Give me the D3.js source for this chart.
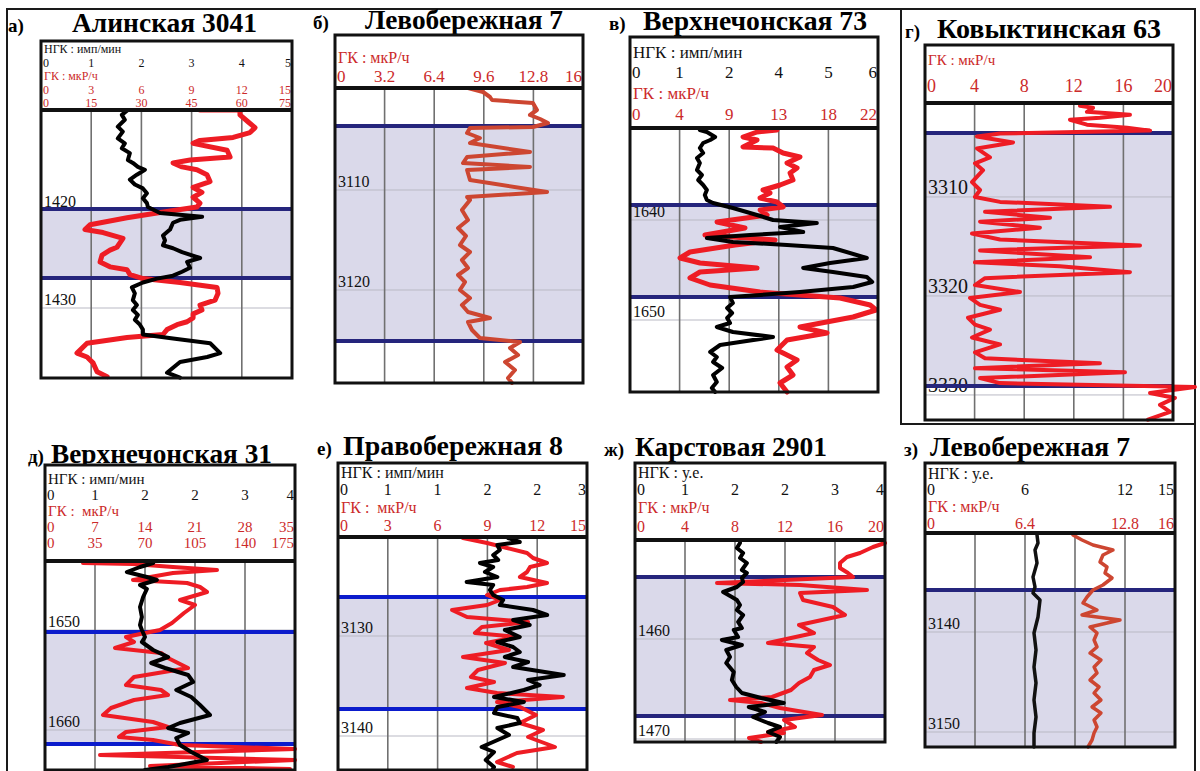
<!DOCTYPE html>
<html><head><meta charset="utf-8">
<script src="https://cdn.jsdelivr.net/npm/d3@7"></script>
<style>
body{margin:0;background:#fff}
svg{display:block}
</style>
</head><body>
<svg id="fig" width="1200" height="771"></svg>
<script>
// ---- well log data: [depth (m), value] ----
// а) Алинская 3041
const alinskNgk = [[1409.8,1.73],[1410.3,1.61],[1410.8,1.67],[1411.5,1.53],[1412.0,1.63],[1412.7,1.53],[1413.2,1.67],[1413.7,1.61],[1414.2,1.77],[1414.9,1.73],[1415.2,1.83],[1415.6,1.93],[1415.9,2.07],[1416.4,1.91],[1416.9,1.77],[1417.4,1.87],[1417.8,2.03],[1418.3,2.11],[1418.8,2.03],[1419.3,2.11],[1419.7,2.13],[1420.3,2.37],[1420.7,3.21],[1421.0,2.77],[1421.3,2.63],[1422.0,2.57],[1422.6,2.43],[1423.1,2.47],[1423.6,2.43],[1423.9,2.63],[1424.3,2.81],[1424.9,3.17],[1425.3,2.91],[1425.9,2.97],[1426.3,2.81],[1426.7,2.63],[1427.0,2.31],[1427.4,2.03],[1427.9,1.81],[1428.5,1.87],[1429.2,1.83],[1429.7,1.91],[1430.2,1.83],[1430.7,1.93],[1431.2,1.87],[1431.7,1.97],[1432.2,2.03],[1432.7,2.03],[1433.1,2.63],[1433.6,3.37],[1434.6,3.57],[1435.0,3.31],[1435.5,2.77],[1436.1,2.63],[1436.6,2.51],[1437.1,2.77]];
const alinskGk = [[1409.8,9.5],[1409.8,11.89],[1410.3,11.89],[1411.0,12.37],[1411.6,12.79],[1412.1,12.49],[1412.6,11.48],[1412.9,9.5],[1413.2,9.09],[1413.9,11.12],[1414.6,11.3],[1414.9,8.91],[1415.2,7.89],[1415.6,8.43],[1415.9,9.32],[1416.4,9.92],[1417.1,10.1],[1417.7,9.09],[1418.2,9.62],[1418.7,9.09],[1419.3,9.5],[1419.7,9.32],[1420.3,6.93],[1420.8,5.14],[1421.5,2.93],[1422.0,2.63],[1422.3,3.71],[1422.9,4.9],[1423.8,4.54],[1424.1,4.12],[1424.6,3.65],[1425.3,3.53],[1425.8,4.12],[1426.1,5.14],[1426.6,5.32],[1427.0,6.1],[1427.4,8.31],[1427.9,10.52],[1428.5,10.58],[1429.2,10.4],[1429.7,9.5],[1430.2,9.62],[1430.6,9.09],[1431.0,9.09],[1431.4,8.73],[1431.7,8.13],[1432.2,7.53],[1432.7,7.29],[1433.0,5.14],[1433.6,2.75],[1434.6,2.15],[1435.0,2.75],[1435.6,3.11],[1436.5,3.35],[1437.0,3.95]];

// б) Левобережная 7 (ГК)
const levo7Gk = [[3099.8,8.58],[3100.2,9.55],[3100.7,10.0],[3101.0,10.13],[3101.3,12.77],[3102.0,13.03],[3102.5,12.58],[3102.9,13.23],[3103.3,13.74],[3103.7,12.77],[3103.8,8.71],[3104.3,8.52],[3104.8,9.35],[3105.3,8.71],[3106.2,12.58],[3106.7,8.52],[3107.3,8.26],[3107.7,12.58],[3108.0,8.52],[3109.0,8.71],[3110.2,13.68],[3110.7,8.52],[3111.0,8.71],[3112.0,8.19],[3113.0,8.58],[3113.8,7.94],[3114.6,8.45],[3115.5,8.06],[3116.2,8.71],[3117.0,8.19],[3117.8,8.58],[3118.5,7.94],[3119.2,8.39],[3120.0,8.06],[3120.8,8.71],[3121.5,8.19],[3122.2,8.58],[3122.8,10.0],[3123.2,8.58],[3124.0,8.84],[3124.8,9.35],[3125.2,11.94],[3125.8,11.29],[3126.5,11.81],[3127.2,10.97],[3128.0,11.61],[3128.8,11.16],[3129.3,11.42]];

// в) Верхнечонская 73
const vch73Ngk = [[1631.0,1.69],[1631.2,1.86],[1631.7,2.06],[1632.0,1.94],[1632.3,1.77],[1632.8,1.69],[1633.3,1.77],[1633.8,1.62],[1634.3,1.69],[1635.0,1.62],[1635.5,1.74],[1636.0,1.65],[1636.5,1.77],[1637.0,1.86],[1637.5,1.81],[1638.0,1.86],[1638.3,2.01],[1638.8,2.49],[1639.5,3.07],[1640.0,3.46],[1640.3,4.52],[1640.7,3.63],[1641.2,4.19],[1641.5,2.9],[1641.8,1.86],[1642.2,2.49],[1642.5,3.8],[1642.8,4.91],[1643.8,5.73],[1644.3,4.84],[1644.8,4.19],[1645.2,4.91],[1645.7,5.73],[1646.2,5.86],[1646.7,5.4],[1647.2,4.11],[1647.5,3.15],[1647.7,2.42],[1648.3,2.49],[1648.8,2.35],[1649.3,2.47],[1649.8,2.35],[1650.3,2.42],[1650.7,2.1],[1651.2,2.49],[1651.7,3.46],[1652.2,2.66],[1652.5,2.18],[1653.2,1.94],[1653.7,2.1],[1654.2,2.01],[1654.8,2.23],[1655.5,2.01],[1656.2,2.1],[1656.8,1.98],[1657.2,2.06]];
const vch73Gk = [[1631.0,13.04],[1631.2,11.27],[1631.7,10.03],[1632.0,11.27],[1632.7,10.03],[1632.8,12.69],[1633.3,13.58],[1633.7,15.08],[1634.3,13.93],[1634.8,14.82],[1635.3,14.2],[1636.0,14.46],[1636.5,13.31],[1636.8,12.42],[1637.0,11.8],[1637.3,12.42],[1637.8,11.54],[1638.2,13.04],[1638.7,13.58],[1639.0,11.54],[1639.5,12.16],[1640.2,7.72],[1640.8,10.2],[1641.5,6.65],[1642.0,12.87],[1642.5,9.32],[1643.2,5.32],[1643.8,4.44],[1644.3,6.21],[1644.8,11.27],[1645.2,6.21],[1645.8,5.32],[1646.5,7.1],[1647.2,11.54],[1647.8,18.63],[1648.5,21.3],[1649.0,21.83],[1649.7,19.79],[1650.7,15.08],[1651.3,17.48],[1652.0,13.93],[1653.0,13.04],[1654.0,14.82],[1654.7,13.93],[1655.5,14.46],[1656.3,13.31],[1657.2,13.93]];

// г) Ковыктинская 63 (ГК)
const kov63Gk = [[3300.8,12.5],[3301.0,13.55],[3301.4,13.06],[3301.7,16.53],[3302.0,14.11],[3302.2,11.69],[3302.7,13.06],[3303.0,16.29],[3303.3,18.15],[3303.6,6.05],[3303.9,4.19],[3304.5,7.1],[3305.1,4.19],[3306.0,5.24],[3306.6,4.03],[3307.3,4.68],[3308.5,3.79],[3309.3,4.44],[3310.0,4.03],[3310.5,6.05],[3311.0,14.92],[3311.5,4.84],[3312.1,10.08],[3312.5,4.44],[3313.1,9.27],[3313.7,3.79],[3314.3,6.05],[3314.9,17.34],[3315.4,4.44],[3316.1,13.31],[3316.6,4.03],[3317.0,10.89],[3317.6,16.53],[3318.2,4.84],[3318.9,4.03],[3319.6,7.66],[3320.2,3.63],[3320.9,4.44],[3321.4,6.05],[3322.2,3.47],[3322.9,4.03],[3323.4,5.24],[3324.2,3.79],[3324.9,6.05],[3325.7,4.03],[3326.3,4.84],[3326.8,14.11],[3327.3,4.03],[3327.7,16.13],[3328.3,4.44],[3328.8,6.05],[3329.2,21.77],[3329.8,18.15],[3330.3,20.16],[3331.0,18.95],[3331.7,19.76],[3332.5,17.98]];

// д) Верхнечонская 31
const vch31Ngk = [[1643.3,1.73],[1643.7,1.52],[1644.2,1.31],[1644.7,1.63],[1645.0,1.79],[1645.5,1.52],[1645.9,1.63],[1646.7,1.57],[1647.7,1.52],[1648.7,1.55],[1649.5,1.52],[1650.0,1.55],[1650.7,1.6],[1651.2,1.55],[1652.0,1.73],[1652.7,1.97],[1653.3,1.7],[1653.8,1.92],[1654.5,2.29],[1655.2,2.37],[1656.0,2.1],[1656.7,2.34],[1657.5,2.48],[1658.5,2.64],[1659.3,2.16],[1659.8,1.97],[1660.3,2.29],[1660.8,2.1],[1661.5,2.16],[1662.2,2.34],[1663.0,2.59],[1663.7,1.97],[1664.0,1.6]];
const vch31Gk = [[1643.3,5.32],[1643.4,12.32],[1643.7,17.92],[1644.0,24.08],[1644.3,17.92],[1645.0,12.32],[1645.3,19.88],[1645.7,21.7],[1646.2,22.68],[1646.5,21.28],[1647.0,18.9],[1647.5,21.0],[1648.3,19.46],[1649.3,17.78],[1650.0,16.1],[1650.3,14.0],[1650.7,11.34],[1651.2,12.46],[1651.8,9.8],[1652.3,16.24],[1652.8,17.22],[1653.8,20.02],[1654.7,12.46],[1655.5,11.34],[1656.0,16.24],[1656.5,17.22],[1657.0,12.46],[1657.8,9.24],[1658.5,8.12],[1659.2,15.12],[1659.7,17.22],[1660.2,11.34],[1660.7,10.36],[1661.0,15.12],[1661.5,18.9],[1661.9,35.0],[1662.5,7.7],[1663.0,35.0],[1663.6,14.7],[1663.9,34.3]];

// е) Правобережная 8
const pravo8Ngk = [[3120.2,2.05],[3120.6,2.19],[3120.9,1.92],[3121.4,1.95],[3121.9,1.87],[3122.4,1.93],[3122.7,1.71],[3123.1,1.87],[3123.6,1.77],[3124.1,1.92],[3124.6,1.55],[3124.9,1.87],[3125.4,1.83],[3125.9,1.87],[3126.4,1.99],[3126.9,1.95],[3127.4,2.35],[3127.9,2.52],[3128.4,2.11],[3128.9,2.31],[3129.4,2.01],[3130.1,2.19],[3130.6,1.92],[3131.1,2.11],[3131.6,2.19],[3132.1,2.01],[3132.6,2.29],[3133.1,2.11],[3133.9,2.72],[3134.4,2.29],[3134.9,2.43],[3135.4,2.24],[3136.1,1.88],[3136.6,2.24],[3137.1,1.92],[3137.7,1.88],[3138.2,2.16],[3138.7,2.19],[3139.2,1.92],[3139.9,2.06],[3141.1,1.73],[3141.6,1.88],[3142.4,1.78],[3143.1,1.88],[3143.4,1.86]];
const pravo8Gk = [[3120.2,7.53],[3120.7,8.98],[3121.2,10.18],[3121.7,11.39],[3122.2,11.75],[3122.7,12.59],[3123.1,11.57],[3123.6,11.39],[3124.1,10.96],[3124.7,12.59],[3125.1,11.39],[3125.4,9.76],[3125.9,8.98],[3126.4,9.76],[3126.9,8.98],[3127.4,6.87],[3128.1,7.77],[3128.6,11.45],[3129.1,8.67],[3129.7,8.25],[3130.1,10.78],[3130.7,8.92],[3131.4,10.3],[3132.1,7.53],[3132.7,10.06],[3133.4,8.43],[3134.1,8.01],[3134.6,9.4],[3135.2,7.77],[3135.7,9.58],[3136.1,13.55],[3136.6,9.58],[3137.1,10.96],[3137.9,11.93],[3138.7,10.96],[3139.4,12.35],[3140.1,11.45],[3141.1,13.07],[3141.7,10.78],[3142.6,9.58],[3143.1,10.54]];

// ж) Карстовая 2901
const karst2901Ngk = [[1450.4,1.68],[1450.9,1.63],[1451.4,1.73],[1451.9,1.68],[1452.4,1.79],[1453.1,1.71],[1453.4,1.79],[1453.9,1.71],[1454.3,1.73],[1454.8,1.63],[1455.3,1.41],[1455.8,1.55],[1456.1,1.63],[1456.6,1.68],[1457.1,1.63],[1457.6,1.73],[1458.3,1.65],[1458.9,1.71],[1459.1,1.58],[1459.8,1.65],[1460.1,1.39],[1460.6,1.71],[1461.1,1.46],[1461.8,1.52],[1462.4,1.46],[1463.3,1.58],[1464.1,1.55],[1464.8,1.62],[1465.4,1.71],[1465.9,2.02],[1466.4,2.38],[1466.8,1.82],[1467.3,2.08],[1467.8,1.89],[1468.4,2.13],[1468.8,2.32],[1469.3,2.13],[1469.8,2.32],[1470.3,2.26]];
const karst2901Gk = [[1450.4,20.0],[1450.8,19.04],[1451.4,18.0],[1451.8,16.96],[1452.4,16.4],[1452.9,16.4],[1453.4,17.04],[1453.8,17.44],[1454.4,6.56],[1454.6,13.2],[1455.1,18.56],[1455.4,13.2],[1456.1,13.44],[1456.8,15.84],[1457.6,16.8],[1458.6,13.12],[1459.4,14.32],[1460.4,10.64],[1460.8,14.32],[1461.4,13.76],[1462.1,14.64],[1462.6,15.6],[1463.1,14.32],[1463.8,14.0],[1464.4,13.12],[1465.1,12.48],[1465.8,10.96],[1466.1,7.6],[1466.4,10.08],[1466.9,11.6],[1467.6,14.96],[1468.1,11.92],[1468.8,12.8],[1469.3,10.64],[1469.4,11.92],[1469.9,9.12],[1470.3,10.08]];

// з) Левобережная 7
const levo7bNgk = [[3130.3,6.72],[3131.1,6.78],[3131.8,6.6],[3133.1,6.72],[3134.5,6.48],[3135.5,6.6],[3136.1,6.48],[3136.8,6.9],[3138.5,6.78],[3140.1,6.54],[3141.8,6.66],[3143.5,6.54],[3145.1,6.66],[3146.8,6.54],[3148.5,6.66],[3150.1,6.54],[3151.5,6.54]];
const levo7bGk = [[3130.3,9.47],[3130.8,10.05],[3131.3,10.75],[3131.8,12.03],[3132.3,11.39],[3133.0,11.2],[3133.5,11.65],[3134.1,11.52],[3134.6,11.97],[3135.3,11.39],[3135.8,10.75],[3136.5,10.37],[3137.1,10.11],[3137.8,11.01],[3138.3,10.05],[3138.8,12.48],[3139.5,10.56],[3140.1,11.01],[3140.8,10.82],[3141.5,11.01],[3142.1,10.56],[3142.8,11.26],[3143.5,10.82],[3144.1,11.01],[3144.8,10.56],[3145.5,11.14],[3146.1,10.82],[3146.8,11.26],[3147.5,10.69],[3148.1,11.26],[3148.8,10.82],[3149.5,11.01],[3150.1,10.82],[3150.8,10.69],[3151.5,10.43]];

// ---- scale tick values and labels ----
const ticks5 = [0,1,2,3,4,5];
const ticks15 = [0,3,6,9,12,15];
const ticks75 = [0,15,30,45,60,75];
const ticks16 = [0,3.2,6.4,9.6,12.8,16];
const vch73NgkTicks = [0,1.2,2.4,3.6,4.8,6], vch73NgkLabels = ["0","1","2","4","5","6"];
const vch73GkTicks = [0,4.4,8.8,13.2,17.6,22], vch73GkLabels = ["0","4","9","13","18","22"];
const ticks20 = [0,4,8,12,16,20];
const ngk4Ticks = [0,0.8,1.6,2.4,3.2,4], ngk4Labels = ["0","1","2","2","3","4"];
const ticks35 = [0,7,14,21,28,35];
const ticks175 = [0,35,70,105,140,175];
const ngk3Ticks = [0,0.6,1.2,1.8,2.4,3], ngk3Labels = ["0","1","1","2","2","3"];
const levo7bNgkTicks = [0,6,12,15];
const levo7bGkTicks = [0,6.4,12.8,16];

// depth marks
const alinskDepths = [1420,1430], levo7Depths = [3110,3120], vch73Depths = [1640,1650], kov63Depths = [3310,3320,3330];
const vch31Depths = [1650,1660], pravo8Depths = [3130,3140], karstDepths = [1460,1470], levo7bDepths = [3140,3150];

// ---- styling ----
const FONT = "Liberation Serif";
const RED = "#ee1c24", BROWN = "#cd4631", HRED = "#cc2a2a", SHADE = "#dad9ea", NAVY = "#25257c", BLUE = "#0b1ccc";
const NGK_T = "НГК : имп/мин", NGK_U = "НГК : у.е.", GK_T = "ГК : мкР/ч", GK_W = "ГК :  мкР/ч";

const panels = [
 {letter:"а)", lx:8, ly:32, title:"Алинская 3041", tx:72, ty:32, tw:185,
  x0:41, x1:292, y0:41, yh:110, y1:378, depth:[1409.8,1437.14], zone:[1419.9,1426.94], zc:NAVY,
  hfs:12, header:[{text:NGK_T,y:53.2},{vals:ticks5,max:5,y:66.7},{text:GK_T,y:80.2,red:1},{vals:ticks15,max:15,y:93.7,red:1},{vals:ticks75,max:75,y:107.2,red:1}],
  curves:[{data:alinskGk,max:15,color:RED,w:5},{data:alinskNgk,max:5,color:"#000",w:4}],
  marks:alinskDepths, mfs:16},
 {letter:"б)", lx:313, ly:29, title:"Левобережная 7", tx:365, ty:29, tw:198,
  x0:335, x1:583, y0:35, yh:88, y1:383, depth:[3099.8,3129.3], zone:[3103.6,3125.1], zc:NAVY,
  hfs:17, header:[{text:GK_T,y:63,red:1,fs:16},{vals:ticks16,max:16,y:82,red:1}],
  curves:[{data:levo7Gk,max:16,color:BROWN,w:4}],
  marks:levo7Depths, mfs:16},
 {letter:"в)", lx:609, ly:30, title:"Верхнечонская 73", tx:643, ty:30, tw:224,
  x0:630, x1:878, y0:37, yh:128, y1:392, depth:[1630.8,1657.2], zone:[1638.5,1647.7], zc:NAVY,
  hfs:17, header:[{text:NGK_T,y:58},{vals:vch73NgkTicks,labels:vch73NgkLabels,max:6,y:78},{text:GK_T,y:99,red:1},{vals:vch73GkTicks,labels:vch73GkLabels,max:22,y:120,red:1}],
  curves:[{data:vch73Gk,max:22,color:RED,w:5},{data:vch73Ngk,max:6,color:"#000",w:4}],
  marks:vch73Depths, mfs:16},
 {letter:"г)", lx:905, ly:38, title:"Ковыктинская 63", tx:937, ty:38, tw:224,
  x0:925, x1:1173, y0:45, yh:103, y1:420, depth:[3300.51,3332.53], zone:[3303.54,3329.09], zc:NAVY,
  hfs:17, header:[{text:GK_T,y:65,red:1,fs:15},{vals:ticks20,max:20,y:92,red:1,fs:18}],
  curves:[{data:kov63Gk,max:20,color:RED,w:4}],
  marks:kov63Depths, mfs:20},
 {letter:"д)", lx:28, ly:463, title:"Верхнечонская 31", tx:51, ty:463, tw:221,
  x0:45, x1:295, y0:465, yh:561, y1:770, depth:[1643.1,1664.0], zone:[1650.2,1661.4], zc:BLUE,
  hfs:15, header:[{text:NGK_T,y:484},{vals:ngk4Ticks,labels:ngk4Labels,max:4,y:500},{text:GK_W,y:516,red:1},{vals:ticks35,max:35,y:532,red:1},{vals:ticks175,max:175,y:548,red:1}],
  curves:[{data:vch31Gk,max:35,color:RED,w:4},{data:vch31Ngk,max:4,color:"#000",w:4}],
  marks:vch31Depths, mfs:16},
 {letter:"е)", lx:317, ly:455, title:"Правобережная 8", tx:343, ty:455, tw:220,
  x0:338, x1:587, y0:463, yh:537, y1:770, depth:[3120.1,3143.4], zone:[3126.1,3137.3], zc:BLUE,
  hfs:16, header:[{text:NGK_T,y:478},{vals:ngk3Ticks,labels:ngk3Labels,max:3,y:495},{text:GK_W,y:513,red:1},{vals:ticks15,max:15,y:531,red:1}],
  curves:[{data:pravo8Gk,max:15,color:RED,w:4},{data:pravo8Ngk,max:3,color:"#000",w:4}],
  marks:pravo8Depths, mfs:16},
 {letter:"ж)", lx:604, ly:456, title:"Карстовая 2901", tx:635, ty:456, tw:192,
  x0:635, x1:885, y0:463, yh:540, y1:742, depth:[1450.1,1470.3], zone:[1453.8,1467.7], zc:NAVY,
  hfs:16, header:[{text:NGK_U,y:478},{vals:ngk4Ticks,labels:ngk4Labels,max:4,y:495},{text:GK_T,y:513,red:1},{vals:ticks20,max:20,y:532,red:1}],
  curves:[{data:karst2901Gk,max:20,color:RED,w:4},{data:karst2901Ngk,max:4,color:"#000",w:4}],
  marks:karstDepths, mfs:16},
 {letter:"з)", lx:904, ly:456, title:"Левобережная 7", tx:930, ty:456, tw:200,
  x0:925, x1:1175, y0:463, yh:533, y1:747, depth:[3130.1,3151.5], zone:[3135.8,null], zc:NAVY,
  hfs:16, header:[{text:NGK_U,y:479},{vals:levo7bNgkTicks,max:15,y:495},{text:GK_T,y:512,red:1},{vals:levo7bGkTicks,max:16,y:529,red:1}],
  curves:[{data:levo7bGk,max:16,color:BROWN,w:3.5},{data:levo7bNgk,max:15,color:"#111",w:3.5}],
  marks:levo7bDepths, mfs:16}
];

const svg = d3.select("#fig");
svg.append("rect").attr("width",1200).attr("height",771).attr("fill","#fff");

// outer frame and the separate frame around panel г)
svg.append("rect").attr("x",7).attr("y",9).attr("width",1188).attr("height",770)
  .attr("fill","none").attr("stroke","#1a1a1a").attr("stroke-width",2);
svg.append("path").attr("d","M901,9V424H1195").attr("fill","none").attr("stroke","#1a1a1a").attr("stroke-width",2);

panels.forEach(p => {
  const g = svg.append("g");
  const y = d3.scaleLinear().domain(p.depth).range([p.yh, p.y1]);
  const frac = d3.scaleLinear().domain([0,5]).range([p.x0, p.x1]);

  // titles
  g.append("text").attr("x",p.lx).attr("y",p.ly).attr("font-size",19).attr("font-weight","bold").text(p.letter);
  g.append("text").attr("x",p.tx).attr("y",p.ty).attr("font-size",28).attr("font-weight","bold")
    .attr("textLength",p.tw).attr("lengthAdjust","spacingAndGlyphs").text(p.title);

  // box background
  g.append("rect").attr("x",p.x0).attr("y",p.y0).attr("width",p.x1-p.x0).attr("height",p.y1-p.y0).attr("fill","#fff");

  // productive interval shading
  const zTop = y(p.zone[0]), zBot = p.zone[1] == null ? p.y1 : y(p.zone[1]);
  g.append("rect").attr("x",p.x0).attr("y",zTop).attr("width",p.x1-p.x0).attr("height",zBot-zTop).attr("fill",SHADE);

  // depth grid lines
  g.selectAll(null).data(p.marks).join("line")
    .attr("x1",p.x0).attr("x2",p.x1).attr("y1",d=>y(d)).attr("y2",d=>y(d))
    .attr("stroke","#b9b9c4").attr("stroke-width",1);

  // vertical grid
  g.selectAll(null).data([1,2,3,4]).join("line")
    .attr("x1",d=>frac(d)).attr("x2",d=>frac(d)).attr("y1",p.yh).attr("y2",p.y1)
    .attr("stroke","#707070").attr("stroke-width",1.6);

  // depth labels
  g.selectAll(null).data(p.marks).join("text")
    .attr("x",p.x0+3).attr("y",d=>y(d)-3).attr("font-size",p.mfs).attr("fill","#111")
    .text(d=>d);

  // interval boundaries
  const bounds = p.zone.filter(d=>d!=null);
  g.selectAll(null).data(bounds).join("line")
    .attr("x1",p.x0).attr("x2",p.x1).attr("y1",d=>y(d)).attr("y2",d=>y(d))
    .attr("stroke",p.zc).attr("stroke-width",4);

  // log curves
  p.curves.forEach(c => {
    const x = d3.scaleLinear().domain([0,c.max]).range([p.x0,p.x1]);
    const line = d3.line().x(d=>x(d[1])).y(d=>y(d[0]));
    g.append("path").datum(c.data).attr("d",line).attr("fill","none")
      .attr("stroke",c.color).attr("stroke-width",c.w).attr("stroke-linejoin","round").attr("stroke-linecap","round");
  });

  // header area
  g.append("rect").attr("x",p.x0).attr("y",p.y0).attr("width",p.x1-p.x0).attr("height",p.yh-p.y0).attr("fill","#fff");
  p.header.forEach(h => {
    const col = h.red ? HRED : "#111";
    const fs = h.fs || p.hfs;
    if (h.text) {
      g.append("text").attr("x",p.x0+3).attr("y",h.y).attr("font-size",fs).attr("fill",col)
        .attr("xml:space","preserve").text(h.text);
    } else {
      const x = d3.scaleLinear().domain([0,h.max]).range([p.x0,p.x1]);
      const labels = h.labels || h.vals.map(String);
      g.selectAll(null).data(h.vals).join("text")
        .attr("x",(d)=> d===0 ? p.x0+2 : d===h.max ? p.x1-1 : x(d))
        .attr("text-anchor",d=> d===0 ? "start" : d===h.max ? "end" : "middle")
        .attr("y",h.y).attr("font-size",fs).attr("fill",col)
        .text((d,i)=>labels[i]);
    }
  });

  // frame and header rule
  g.append("rect").attr("x",p.x0).attr("y",p.y0).attr("width",p.x1-p.x0).attr("height",p.y1-p.y0)
    .attr("fill","none").attr("stroke","#111").attr("stroke-width",3);
  g.append("line").attr("x1",p.x0).attr("x2",p.x1).attr("y1",p.yh).attr("y2",p.yh)
    .attr("stroke","#111").attr("stroke-width",4);
});

// serif face on every label
svg.selectAll("text").attr("font-family", FONT);
</script>
</body></html>
